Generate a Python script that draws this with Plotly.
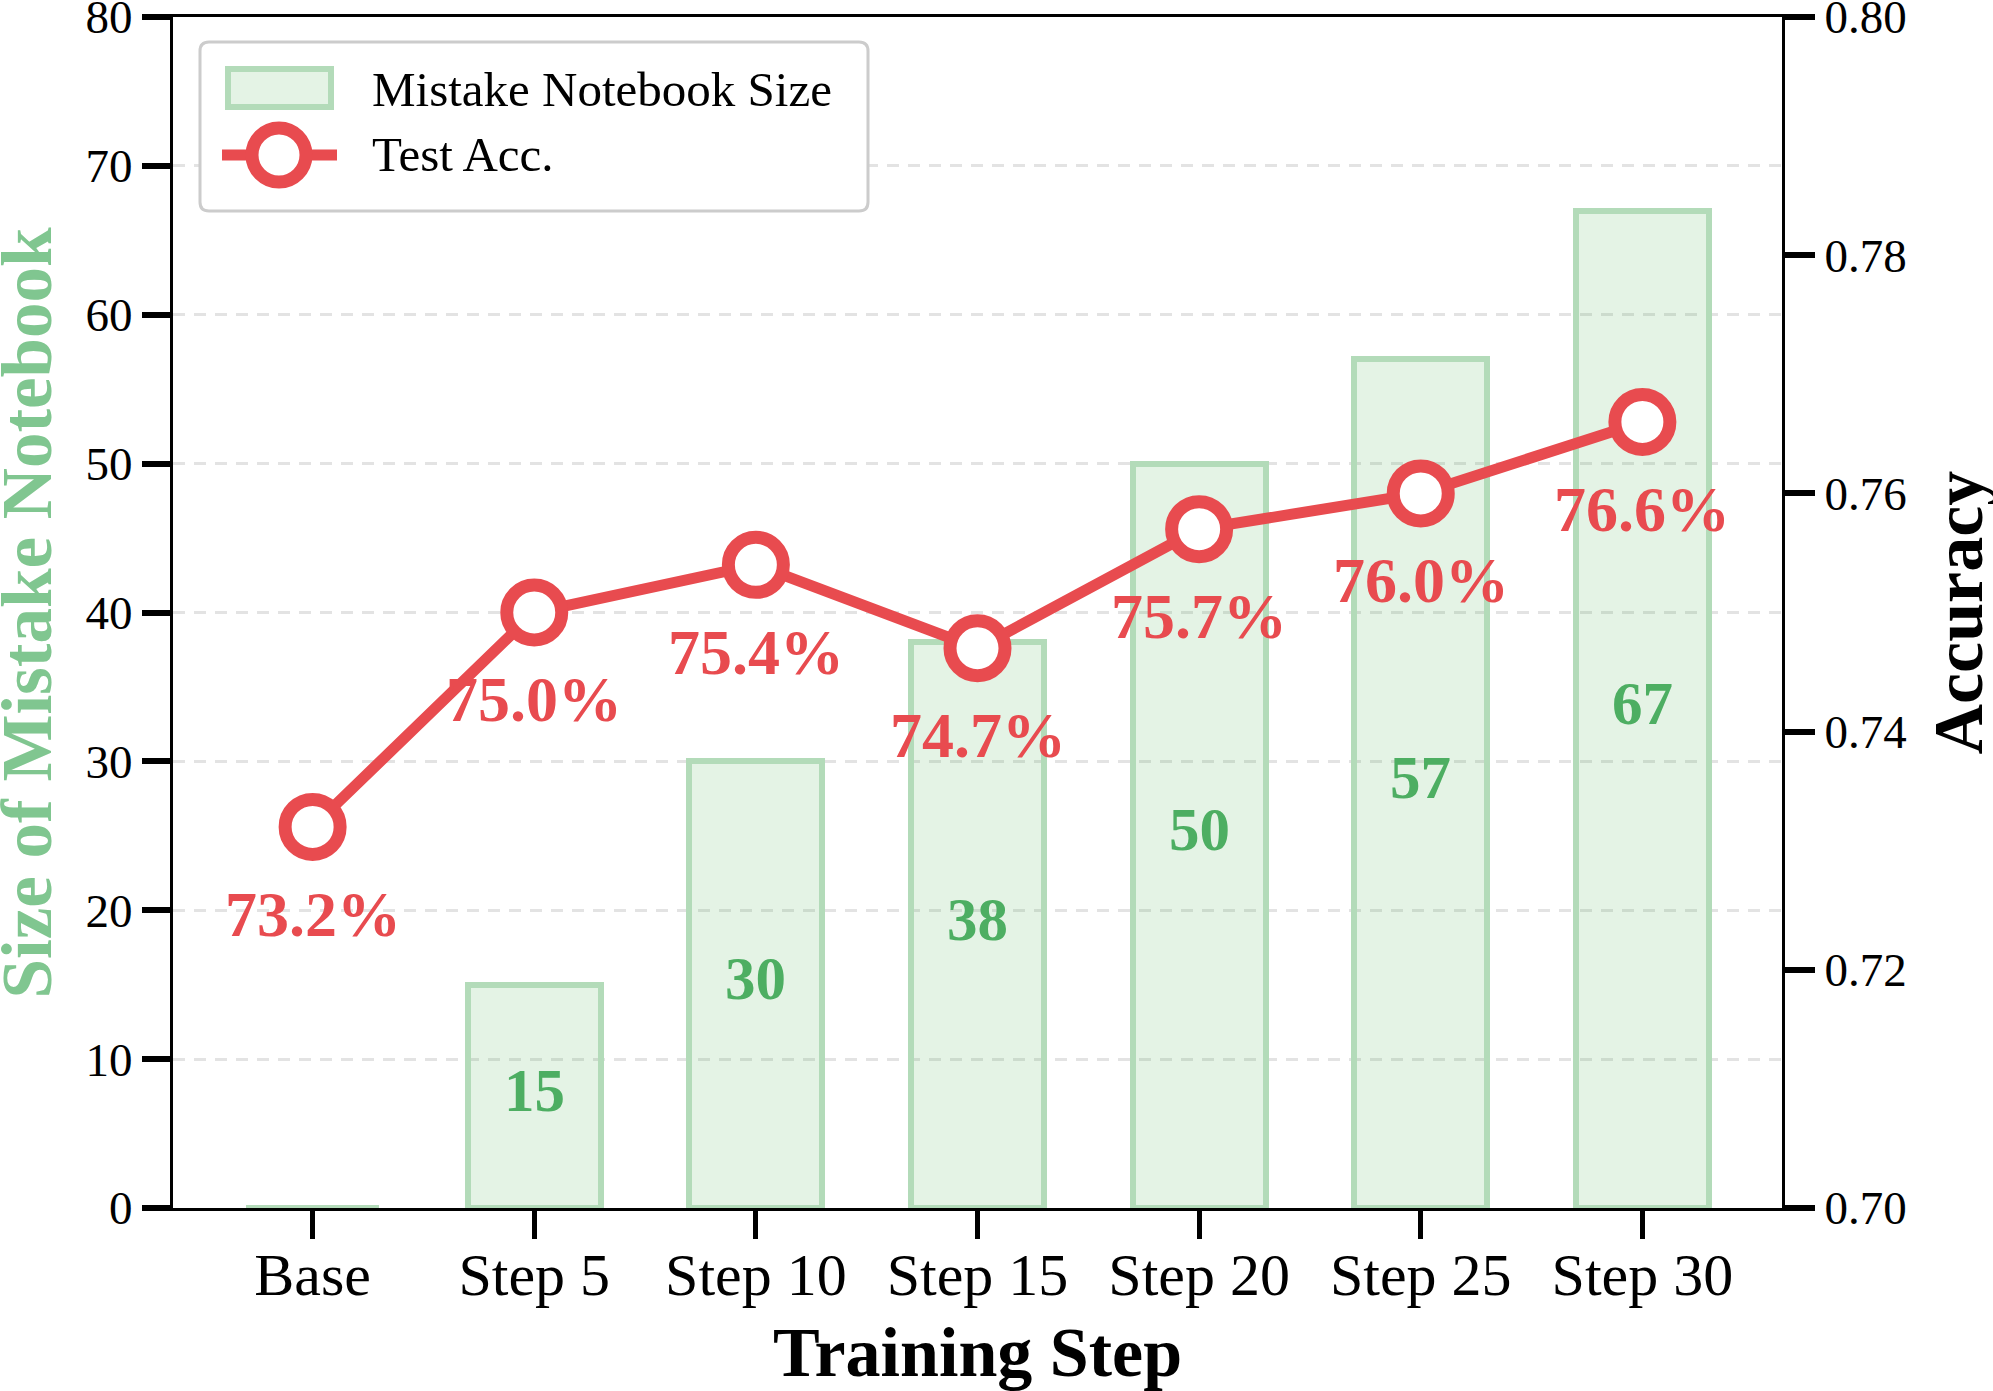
import plotly.graph_objects as go

categories = ["Base", "Step 5", "Step 10", "Step 15", "Step 20", "Step 25", "Step 30"]
notebook_size = [0, 15, 30, 38, 50, 57, 67]
test_acc = [0.732, 0.750, 0.754, 0.747, 0.757, 0.760, 0.766]
left_ticks = [0, 10, 20, 30, 40, 50, 60, 70, 80]
right_ticks = [0.70, 0.72, 0.74, 0.76, 0.78, 0.80]

W, H = 1993, 1391
ML, MR, MT, MB = 173, 211, 17, 183
PW, PH = W - ML - MR, H - MT - MB

FONT = "Liberation Serif"
RED = "#E84B4F"
GREEN_TXT = "#4DAE62"
BAR_FILL = "rgba(76,175,80,0.15)"
BAR_EDGE = "#B3DBB9"
TITLE_GREEN = "#80C690"

xs = list(range(len(categories)))

fig = go.Figure()
fig.add_trace(go.Bar(
    x=xs, y=notebook_size, width=0.6,
    marker=dict(color=BAR_FILL, line=dict(color=BAR_EDGE, width=6)),
    yaxis="y", showlegend=False, hoverinfo="skip",
))
fig.add_trace(go.Scatter(
    x=xs, y=test_acc, yaxis="y2", mode="lines+markers",
    line=dict(color=RED, width=11),
    marker=dict(size=55, color="white", line=dict(color=RED, width=13)),
    showlegend=False, hoverinfo="skip",
))

annotations = []
for x, v in zip(xs, notebook_size):
    if v > 0:
        annotations.append(dict(x=x, y=v / 2, xref="x", yref="y", text=str(v), showarrow=False,
                                font=dict(family=FONT, size=61, color=GREEN_TXT, weight="bold"),
                                xanchor="center", yanchor="middle", yshift=6))
for x, a in zip(xs, test_acc):
    annotations.append(dict(x=x, y=a - 0.0075, xref="x", yref="y2", text=f"{a*100:.1f}%", showarrow=False,
                            font=dict(family=FONT, size=64, color=RED, weight="bold"),
                            xanchor="center", yanchor="middle", yshift=2))


def px_x(p):
    return (p - ML) / PW


def px_y(p):
    return (H - MB - p) / PH


# custom legend (matplotlib-style)
lx0, lx1, ly0, ly1, r = 200, 868, 42, 211, 9
path = (f"M{px_x(lx0 + r)},{px_y(ly0)} L{px_x(lx1 - r)},{px_y(ly0)} "
        f"Q{px_x(lx1)},{px_y(ly0)} {px_x(lx1)},{px_y(ly0 + r)} "
        f"L{px_x(lx1)},{px_y(ly1 - r)} Q{px_x(lx1)},{px_y(ly1)} {px_x(lx1 - r)},{px_y(ly1)} "
        f"L{px_x(lx0 + r)},{px_y(ly1)} Q{px_x(lx0)},{px_y(ly1)} {px_x(lx0)},{px_y(ly1 - r)} "
        f"L{px_x(lx0)},{px_y(ly0 + r)} Q{px_x(lx0)},{px_y(ly0)} {px_x(lx0 + r)},{px_y(ly0)} Z")
shapes = [
    dict(type="path", xref="paper", yref="paper", path=path, fillcolor="white",
         line=dict(color="#CCCCCC", width=3), layer="above"),
    dict(type="rect", xref="paper", yref="paper", x0=px_x(228), x1=px_x(331), y0=px_y(69), y1=px_y(107),
         fillcolor=BAR_FILL, line=dict(color=BAR_EDGE, width=6), layer="above"),
    dict(type="line", xref="paper", yref="paper", x0=px_x(222), x1=px_x(337), y0=px_y(155), y1=px_y(155),
         line=dict(color=RED, width=11), layer="above"),
    dict(type="circle", xref="paper", yref="paper", x0=px_x(279 - 27), x1=px_x(279 + 27),
         y0=px_y(155 - 27), y1=px_y(155 + 27), fillcolor="white", line=dict(color=RED, width=13), layer="above"),
]
annotations += [
    dict(x=px_x(370), y=px_y(89), xref="paper", yref="paper", text="Mistake Notebook Size", showarrow=False,
         xanchor="left", yanchor="middle", font=dict(family=FONT, size=49, color="black")),
    dict(x=px_x(370), y=px_y(155), xref="paper", yref="paper", text="Test Acc.", showarrow=False,
         xanchor="left", yanchor="middle", font=dict(family=FONT, size=49, color="black")),
    # axis titles
    dict(x=px_x(26), y=0.5, xref="paper", yref="paper", text="Size of Mistake Notebook", showarrow=False,
         textangle=-90, xanchor="center", yanchor="middle",
         font=dict(family=FONT, size=71, color=TITLE_GREEN, weight="bold")),
    dict(x=px_x(1958), y=0.5, xref="paper", yref="paper", text="Accuracy", showarrow=False,
         textangle=-90, xanchor="center", yanchor="middle",
         font=dict(family=FONT, size=70, color="black", weight="bold")),
    dict(x=0.5, y=px_y(1352), xref="paper", yref="paper", text="Training Step", showarrow=False,
         xanchor="center", yanchor="middle",
         font=dict(family=FONT, size=70, color="black", weight="bold")),
]

fig.update_layout(
    width=W, height=H,
    margin=dict(l=ML, r=MR, t=MT, b=MB, pad=0),
    plot_bgcolor="white", paper_bgcolor="white",
    font=dict(family=FONT, color="black"),
    bargap=0,
    xaxis=dict(
        range=[-0.63, 6.63], tickmode="array", tickvals=xs, ticktext=categories,
        tickfont=dict(size=60, family=FONT), ticks="outside", ticklen=28, tickwidth=5, tickcolor="black",
        ticklabelstandoff=-16,
        showline=True, linecolor="black", linewidth=3, mirror=True, showgrid=False, zeroline=False,
        automargin=False,
    ),
    yaxis=dict(
        range=[0, 80], tickmode="array", tickvals=left_ticks, ticktext=[str(t) for t in left_ticks],
        tickfont=dict(size=47, family=FONT), ticks="outside", ticklen=28, tickwidth=6, tickcolor="black",
        ticklabeloverflow="allow",
        showline=True, linecolor="black", linewidth=3, showgrid=True, gridcolor="#E3E3E3", gridwidth=3,
        griddash="12px,9px", zeroline=False,
        automargin=False,
    ),
    yaxis2=dict(
        range=[0.70, 0.80], overlaying="y", side="right", tickmode="array", tickvals=right_ticks,
        ticktext=[f"{t:.2f}" for t in right_ticks],
        tickfont=dict(size=47, family=FONT), ticks="outside", ticklen=30, tickwidth=6, tickcolor="black",
        ticklabeloverflow="allow",
        showline=True, linecolor="black", linewidth=3, showgrid=False, zeroline=False,
        automargin=False,
    ),
    shapes=shapes,
    annotations=annotations,
)

fig.write_html("out.html")
